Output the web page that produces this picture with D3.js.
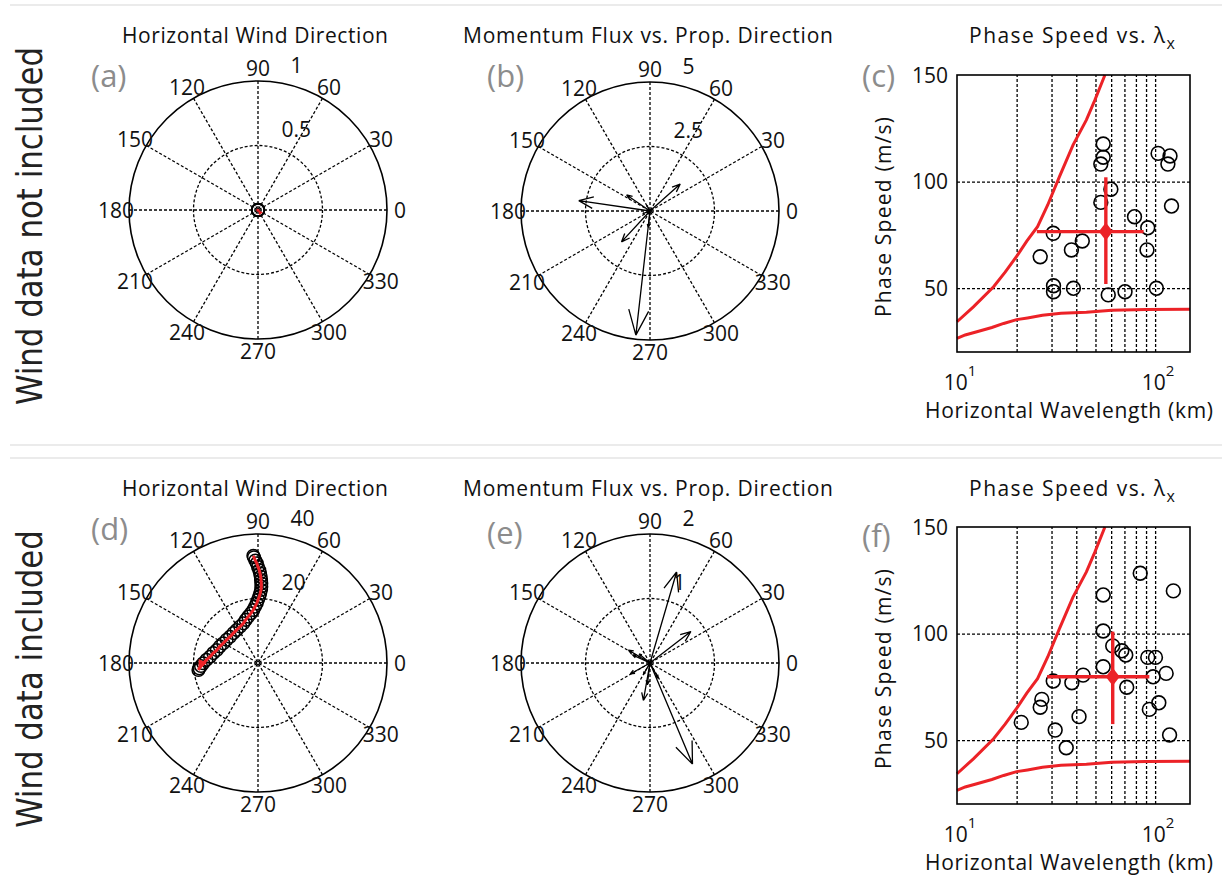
<!DOCTYPE html>
<html>
<head>
<meta charset="utf-8">
<script src="https://cdn.jsdelivr.net/npm/d3@7"></script>
<style>
    body { margin: 0; background: #fff; }
    svg text { font-family: "Open Sans", "Noto Sans", sans-serif; fill: #111; }
    .dash { stroke: #000; stroke-width: 1.3; stroke-dasharray: 3, 2; fill: none; }
</style>
</head>
<body>
<svg id="fig" width="1222" height="878"></svg>
<script>

// ---- data ----

const spokeAngles = [0, 30, 60, 90, 120, 150];
const angleLabels = [0, 30, 60, 90, 120, 150, 180, 210, 240, 270, 300, 330];

// (a) wind, no wind data -> all near zero
const windDirA = [35, 210, 310, 130];
const windSpdA = [0.002, 0.0015, 0.002, 0.001];

// (d) wind hodograph (deg, m/s)
const windDirD = [92.5, 92.2, 91.5, 90.7, 90, 89.2, 88.7, 88.2, 87.9, 87.6, 87.5, 87.6, 88.2, 88.9,
                  90, 91.2, 93, 95.1, 98, 101.8, 106, 110.3, 116, 122.8, 129.5, 136.8, 143.5,
                  150.4, 156.5, 162.5, 167.5, 172.5, 176.5, 180.3, 183, 185.2, 186.7];
const windSpdD = [33.3, 32.8, 31.8, 30.9, 29.8, 28.8, 27.8, 26.8, 25.7, 24.7, 23.7, 22.7, 21.6, 20.6,
                  19.6, 18.5, 17.5, 16.5, 15.6, 14.7, 13.9, 13.1, 12.6, 12.2, 12, 11.9, 12.1,
                  12.4, 12.9, 13.4, 14.2, 15, 16, 17, 17.7, 18.3, 18.6];

// (b) momentum flux vs propagation direction
const fluxDirB = [171.7, 41.7, 145.5, 227.3, 263.5, 264, 200, 120];
const fluxMagB = [2.79, 1.57, 1.1, 1.63, 4.84, 0.64, 0.3, 0.25];

// (e)
const fluxDirE = [73.7, 37.6, 292.8, 260, 263, 149, 209, 298, 155, 140, 240];
const fluxMagE = [1.47, 0.8, 1.70, 0.59, 0.34, 0.39, 0.35, 0.27, 0.3, 0.22, 0.2];

// (c) phase speed vs horizontal wavelength
const lambdaC = [54.7, 54.7, 53.2, 103.5, 118.9, 116, 59.8, 53.2, 121, 78.7, 91.8,
                 30.6, 42.9, 37.8, 91, 26.3, 30.7, 30.7, 38.7, 58, 70.5, 101.5];
const speedC  = [117.6, 111.4, 108.2, 113.2, 112, 108.2, 96.4, 90.2, 88.5, 83.5, 78.3,
                 75.7, 72.1, 67.9, 67.9, 64.7, 51.1, 48.3, 49.9, 46.8, 48.3, 49.9];

// (f)
const lambdaF = [84.1, 123.6, 54.7, 54.7, 61.1, 67.9, 71.1, 91.8, 100.4, 54.7, 113.7, 43.3, 97.7,
                 30.6, 38, 71.9, 26.8, 26.3, 104.4, 93.5, 41.3, 21.1, 31.3, 118.3, 35.6];
const speedF  = [128.3, 120, 118.1, 101.2, 94.2, 91.9, 89.9, 88.8, 88.8, 84.4, 81.3, 80.5, 79.7,
                 77.7, 76.9, 74.8, 69.1, 65.4, 67.5, 64.4, 61, 58.3, 54.7, 52.4, 46.4];

// mean +/- std crosses, [c, f]
const meanLambda = [56.4, 61.1];
const lambdaLo   = [25.3, 28.5];
const lambdaHi   = [87.5, 93.5];
const meanSpeed  = [76.5, 79.7];
const speedLo    = [51.9, 57.5];
const speedHi    = [102, 100.9];

// red limit curves
const upperLambda = [10, 12.1, 15.3, 17.5, 20.2, 22.5, 25.5, 28.7, 32.9, 38.5, 45, 49.7, 55.8];
const upperSpeed  = [34.2, 41.2, 50.6, 57.5, 65.5, 72, 78.8, 89, 102.3, 117.1, 128.9, 138.3, 150];
const lowerLambda = [10, 11, 12.6, 15, 17.2, 20, 22.7, 27, 33.5, 45, 60.4, 90, 150];
const lowerSpeed  = [26.4, 28, 29.5, 31.5, 33.4, 35.2, 36, 37.2, 38.2, 38.6, 39.6, 39.9, 40.1];

const lambdaGrid = [20, 30, 40, 50, 60, 70, 80, 90, 100];
const speedTicks = [50, 100, 150];

const red = "#ec2227";
const svg = d3.select("#fig");
const rad = d => d * Math.PI / 180;

// separators
[5, 445, 458].forEach(function(y) {
    svg.append("line").attr("x1", 10).attr("x2", 1222).attr("y1", y).attr("y2", y)
        .attr("stroke", "#e4e4e4").attr("stroke-width", 1.5);
});

function polar(cx, cy, rmax, rticks) {
    let R = 129;
    let r = d3.scaleLinear().domain([0, rmax]).range([0, R]);
    let g = svg.append("g").attr("transform", "translate(" + cx + "," + cy + ")");

    g.selectAll(".spoke").data(spokeAngles).enter().append("line")
        .attr("class", "dash")
        .attr("x1", d => -R * Math.cos(rad(d))).attr("y1", d => R * Math.sin(rad(d)))
        .attr("x2", d => R * Math.cos(rad(d))).attr("y2", d => -R * Math.sin(rad(d)));

    g.selectAll(".ring").data(rticks.slice(0, -1)).enter().append("circle")
        .attr("class", "dash").attr("r", d => r(d));

    g.append("circle").attr("r", R).attr("fill", "none")
        .attr("stroke", "#000").attr("stroke-width", 1.6);

    g.selectAll(".alab").data(angleLabels).enter().append("text")
        .attr("x", d => 1.1 * R * Math.cos(rad(d)))
        .attr("y", d => -1.1 * R * Math.sin(rad(d)))
        .attr("dy", "0.36em")
        .attr("text-anchor", "middle").attr("font-size", 21)
        .text(d => d);

    // radial labels at 82 deg, like matlab polar()
    let rinc = rmax / rticks.length;
    g.selectAll(".rlab").data(rticks).enter().append("text")
        .attr("x", d => r(d + rinc / 20) * Math.cos(rad(82)) + 14)
        .attr("y", d => -r(d + rinc / 20) * Math.sin(rad(82)) - 6)
        .attr("font-size", 21)
        .text(d => d);

    return {
        g: g,
        pt: function(deg, v) { return [r(v) * Math.cos(rad(deg)), -r(v) * Math.sin(rad(deg))]; }
    };
}

function compass(p, dirs, mags) {
    dirs.forEach(function(d, i) {
        let t = p.pt(d, mags[i]);
        let tx = t[0], ty = t[1];
        let path = "M0,0L" + tx + "," + ty +
            "L" + (0.8 * tx - 0.08 * ty) + "," + (0.8 * ty + 0.08 * tx) +
            "M" + tx + "," + ty +
            "L" + (0.8 * tx + 0.08 * ty) + "," + (0.8 * ty - 0.08 * tx);
        p.g.append("path").attr("d", path).attr("fill", "none")
            .attr("stroke", "#000").attr("stroke-width", 1.3);
    });
}

function wind(p, dirs, spds, headSize) {
    let pts = dirs.map((d, i) => p.pt(d, spds[i]));
    p.g.selectAll(".wc").data(pts).enter().append("circle")
        .attr("cx", d => d[0]).attr("cy", d => d[1]).attr("r", 6.3)
        .attr("fill", "none").attr("stroke", "#000").attr("stroke-width", 1.5);
    p.g.append("path").attr("d", d3.line()(pts)).attr("fill", "none")
        .attr("stroke", red).attr("stroke-width", 3).attr("stroke-linejoin", "round");
    // arrow head at the last point
    let a = pts[pts.length - 2], b = pts[pts.length - 1];
    let ang = Math.atan2(b[1] - a[1], b[0] - a[0]);
    let L = headSize, W = headSize * 0.45;
    let ux = Math.cos(ang), uy = Math.sin(ang);
    let head = [[b[0], b[1]],
        [b[0] - L * ux - W * uy, b[1] - L * uy + W * ux],
        [b[0] - L * ux + W * uy, b[1] - L * uy - W * ux]];
    p.g.append("path").attr("d", "M" + head.join("L") + "Z").attr("fill", red);
}

function scatter(top, lam, spd, k) {
    let x = d3.scaleLog().domain([10, 150]).range([957, 1190]);
    let y = d3.scaleLinear().domain([20, 150]).range([top + 277, top]);
    let g = svg.append("g");

    g.append("g")
        .attr("transform", "translate(0," + (top + 277) + ")")
        .call(d3.axisBottom(x).tickValues(lambdaGrid).tickSize(-277).tickFormat(""))
        .call(function(a) {
            a.select(".domain").remove();
            a.selectAll("line").attr("class", "dash");
        });
    g.append("g")
        .attr("transform", "translate(957,0)")
        .call(d3.axisLeft(y).tickValues([50, 100]).tickSize(-233).tickFormat(""))
        .call(function(a) {
            a.select(".domain").remove();
            a.selectAll("line").attr("class", "dash");
        });

    let curve = d3.line().x(d => x(d[0])).y(d => y(d[1]));
    g.append("path").attr("d", curve(upperLambda.map((l, i) => [l, upperSpeed[i]])))
        .attr("fill", "none").attr("stroke", red).attr("stroke-width", 3);
    g.append("path").attr("d", curve(lowerLambda.map((l, i) => [l, lowerSpeed[i]])))
        .attr("fill", "none").attr("stroke", red).attr("stroke-width", 3);

    g.selectAll(".pt").data(lam).enter().append("circle")
        .attr("cx", d => x(d)).attr("cy", (d, i) => y(spd[i])).attr("r", 6.9)
        .attr("fill", "none").attr("stroke", "#000").attr("stroke-width", 1.6);

    // mean and spread
    g.append("line").attr("x1", x(lambdaLo[k])).attr("x2", x(lambdaHi[k]))
        .attr("y1", y(meanSpeed[k])).attr("y2", y(meanSpeed[k]))
        .attr("stroke", red).attr("stroke-width", 3.4);
    g.append("line").attr("x1", x(meanLambda[k])).attr("x2", x(meanLambda[k]))
        .attr("y1", y(speedLo[k])).attr("y2", y(speedHi[k]))
        .attr("stroke", red).attr("stroke-width", 3.4);
    let mx = x(meanLambda[k]), my = y(meanSpeed[k]);
    g.append("path").attr("d", "M" + mx + "," + (my - 9) + "L" + (mx + 7) + "," + my +
        "L" + mx + "," + (my + 9) + "L" + (mx - 7) + "," + my + "Z").attr("fill", red);

    g.append("rect").attr("x", 957).attr("y", top).attr("width", 233).attr("height", 277)
        .attr("fill", "none").attr("stroke", "#000").attr("stroke-width", 1.6);

    g.selectAll(".yl").data(speedTicks).enter().append("text")
        .attr("x", 948).attr("y", d => y(d)).attr("dy", "0.36em")
        .attr("text-anchor", "end").attr("font-size", 21).text(d => d);

    [10, 100].forEach(function(v, i) {
        let t = g.append("text").attr("x", x(v) + 3).attr("y", top + 315)
            .attr("text-anchor", "middle").attr("font-size", 21);
        t.append("tspan").text("10");
        t.append("tspan").attr("dy", -14).attr("font-size", 15).text(i + 1);
    });

    g.append("text").attr("x", 1069).attr("y", top + 343)
        .attr("text-anchor", "middle").attr("font-size", 21)
        .attr("textLength", 288).attr("lengthAdjust", "spacing")
        .text("Horizontal Wavelength (km)");
    g.append("text")
        .attr("transform", "translate(891," + (top + 142) + ") rotate(-90)")
        .attr("text-anchor", "middle").attr("font-size", 21)
        .attr("textLength", 200).attr("lengthAdjust", "spacing")
        .text("Phase Speed (m/s)");
}

// ---- titles and letters ----
function title(x, y, txt, w) {
    svg.append("text").attr("x", x).attr("y", y).attr("text-anchor", "middle")
        .attr("font-size", 21).attr("textLength", w).attr("lengthAdjust", "spacing")
        .text(txt);
}
function letter(x, y, txt) {
    svg.append("text").attr("x", x).attr("y", y).attr("font-size", 31)
        .style("fill", "#8c8c8c").text(txt);
}

[0, 453].forEach(function(dy, row) {
    title(255, 43 + dy, "Horizontal Wind Direction", 266);
    title(648, 43 + dy, "Momentum Flux vs. Prop. Direction", 370);
    let t = svg.append("text").attr("x", 1072).attr("y", 43 + dy).attr("text-anchor", "middle")
        .attr("font-size", 21);
    t.append("tspan").attr("textLength", 196).attr("lengthAdjust", "spacing").text("Phase Speed vs. λ");
    t.append("tspan").attr("dy", 6).attr("font-size", 16).text("x");
});
letter(91, 87, "(a)");
letter(487, 87, "(b)");
letter(862, 87, "(c)");
letter(91, 540, "(d)");
letter(487, 544, "(e)");
letter(862, 547, "(f)");

// ---- panels ----
let pa = polar(258, 210, 1, [0.5, 1]);
wind(pa, windDirA, windSpdA, 5);

let pb = polar(650, 211, 5, [2.5, 5]);
compass(pb, fluxDirB, fluxMagB);

scatter(75, lambdaC, speedC, 0);

let pd = polar(258, 663, 40, [20, 40]);
wind(pd, windDirD, windSpdD, 10);

let pe = polar(650, 663, 2, [1, 2]);
compass(pe, fluxDirE, fluxMagE);

scatter(527, lambdaF, speedF, 1);

// ---- row labels ----
let rowLab1 = svg.append("text")
    .attr("transform", "translate(42,226) rotate(-90)")
    .attr("text-anchor", "middle").attr("font-size", 35)
    .style("font-family", "'DejaVu Sans Condensed', 'Liberation Sans Narrow', sans-serif")
    .style("fill", "#222")
    .text("Wind data not included");
let rowLab2 = svg.append("text")
    .attr("transform", "translate(42,679) rotate(-90)")
    .attr("text-anchor", "middle").attr("font-size", 35)
    .style("font-family", "'DejaVu Sans Condensed', 'Liberation Sans Narrow', sans-serif")
    .style("fill", "#222")
    .text("Wind data included");
let k = 358 / rowLab1.node().getComputedTextLength();
let w2 = rowLab2.node().getComputedTextLength() * k;
rowLab1.attr("textLength", 358).attr("lengthAdjust", "spacingAndGlyphs");
rowLab2.attr("textLength", w2).attr("lengthAdjust", "spacingAndGlyphs");

</script>
</body>
</html>
